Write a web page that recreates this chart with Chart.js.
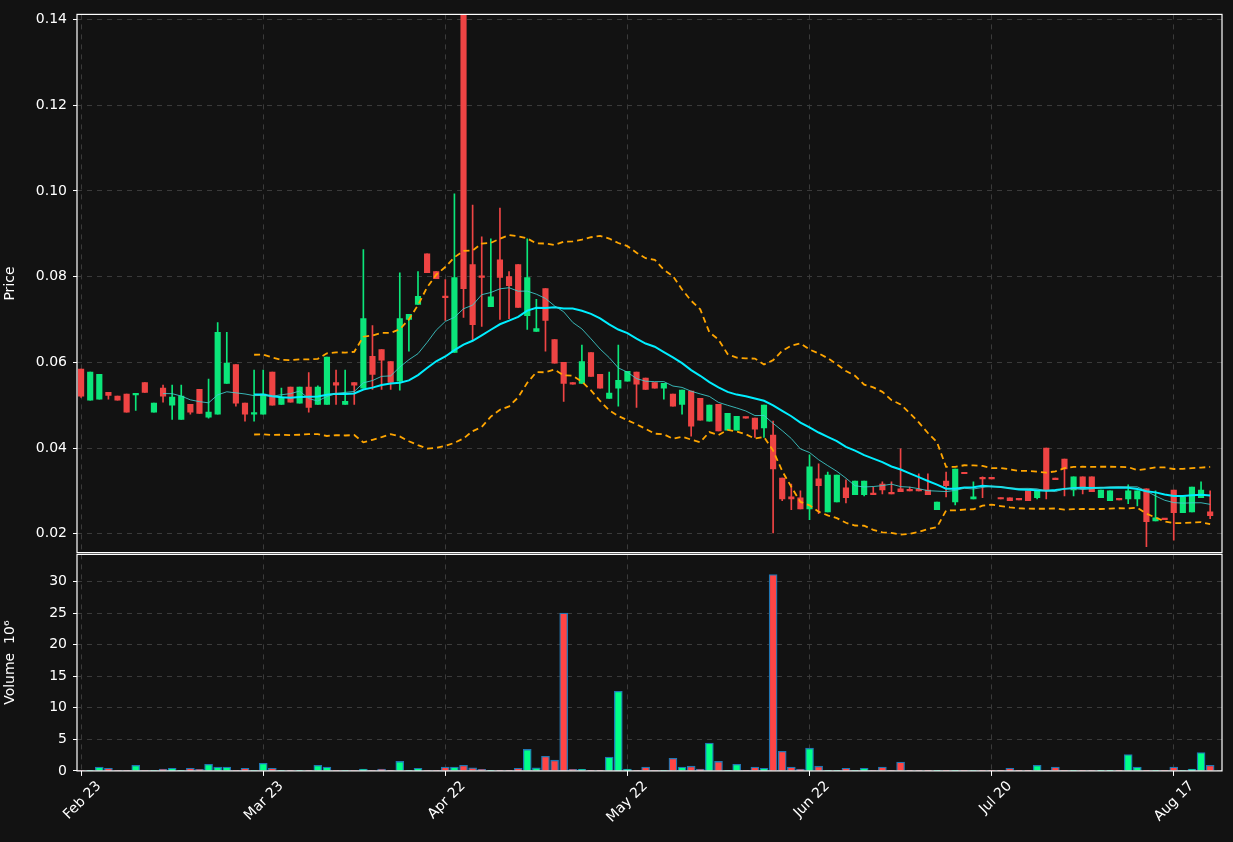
<!DOCTYPE html>
<html><head><meta charset="utf-8">
<script src="https://cdn.jsdelivr.net/npm/chart.js@4/dist/chart.umd.min.js"></script>
<style>
html,body{margin:0;padding:0;background:#121212;}
#wrap{position:relative;width:1233px;height:842px;overflow:hidden;}
#c1{position:absolute;left:0;top:0;}
#c2{position:absolute;left:0;top:540px;}
</style></head><body>
<div id="wrap">
<canvas id="c1" width="1233" height="567"></canvas>
<canvas id="c2" width="1233" height="288"></canvas>
</div>
<script>
const tickLabels = ["Feb 23","Mar 23","Apr 22","May 22","Jun 22","Jul 20","Aug 17"];
const tickIndex = [0,20,40,60,80,100,120];
const opens = [.0584,.0512,.0514,.0530,.0521,.0526,.0524,.0553,.0484,.0540,.0500,.0467,.0502,.0537,.0472,.0479,.0551,.0595,.0505,.0479,
.0479,.0577,.0502,.0542,.0505,.0542,.0502,.0502,.0553,.0502,.0553,.0540,.0614,.0630,.0602,.0556,.0700,.0735,.0853,.0812,
.0754,.0623,.1410,.0828,.0802,.0730,.0839,.0800,.0828,.0709,.0672,.0772,.0653,.0600,.0553,.0551,.0623,.0572,.0516,.0540,
.0556,.0577,.0563,.0553,.0540,.0526,.0502,.0533,.0516,.0463,.0502,.0442,.0442,.0472,.0470,.0447,.0430,.0330,.0286,.0284,
.0258,.0328,.0251,.0274,.0307,.0291,.0291,.0295,.0316,.0295,.0305,.0302,.0302,.0302,.0256,.0323,.0274,.0342,.0281,.0330,
.0330,.0284,.0284,.0280,.0300,.0284,.0400,.0330,.0374,.0302,.0333,.0333,.0284,.0277,.0281,.0281,.0281,.0305,.0230,.0235,
.0302,.0249,.0251,.0284,.0251];
const highs = [.0584,.0577,.0572,.0530,.0521,.0526,.0526,.0553,.0505,.0547,.0547,.0547,.0502,.0537,.0561,.0693,.0670,.0595,.0505,.0582,
.0582,.0577,.0540,.0542,.0542,.0576,.0545,.0612,.0582,.0582,.0553,.0863,.0686,.0630,.0602,.0809,.0712,.0812,.0853,.0812,
.0793,.0993,.1450,.0967,.0893,.0888,.0960,.0812,.0828,.0888,.0747,.0772,.0653,.0600,.0553,.0640,.0623,.0572,.0577,.0640,
.0579,.0577,.0563,.0553,.0551,.0526,.0535,.0533,.0516,.0500,.0502,.0481,.0474,.0472,.0470,.0500,.0463,.0330,.0316,.0300,
.0384,.0363,.0344,.0337,.0326,.0323,.0323,.0309,.0321,.0321,.0398,.0309,.0340,.0340,.0274,.0344,.0351,.0342,.0321,.0333,
.0330,.0284,.0284,.0280,.0300,.0300,.0400,.0330,.0374,.0333,.0333,.0333,.0302,.0300,.0281,.0314,.0300,.0305,.0300,.0235,
.0302,.0286,.0309,.0321,.0300];
const lows = [.0518,.0512,.0514,.0514,.0512,.0484,.0488,.0530,.0484,.0507,.0467,.0467,.0479,.0481,.0470,.0479,.0551,.0498,.0463,.0463,
.0479,.0500,.0502,.0507,.0505,.0484,.0502,.0502,.0502,.0502,.0502,.0540,.0537,.0537,.0537,.0535,.0626,.0735,.0809,.0795,
.0698,.0623,.0705,.0653,.0684,.0730,.0700,.0702,.0728,.0677,.0672,.0626,.0598,.0509,.0549,.0551,.0567,.0540,.0516,.0498,
.0556,.0495,.0537,.0540,.0514,.0498,.0479,.0428,.0465,.0463,.0440,.0442,.0442,.0470,.0425,.0425,.0202,.0277,.0256,.0258,
.0233,.0247,.0251,.0274,.0272,.0291,.0288,.0291,.0293,.0293,.0298,.0300,.0300,.0291,.0256,.0286,.0267,.0340,.0281,.0284,
.0328,.0281,.0277,.0279,.0277,.0281,.0281,.0326,.0288,.0288,.0293,.0298,.0284,.0277,.0279,.0270,.0265,.0170,.0230,.0233,
.0185,.0249,.0251,.0284,.0235];
const closes = [.0521,.0577,.0572,.0523,.0512,.0484,.0526,.0530,.0505,.0521,.0519,.0521,.0484,.0481,.0484,.0670,.0598,.0505,.0479,.0482,
.0526,.0500,.0519,.0507,.0542,.0495,.0542,.0612,.0547,.0509,.0547,.0702,.0572,.0605,.0553,.0702,.0712,.0754,.0809,.0795,
.0751,.0798,.0772,.0688,.0798,.0753,.0798,.0779,.0728,.0798,.0679,.0698,.0598,.0551,.0549,.0602,.0567,.0540,.0528,.0558,
.0579,.0549,.0537,.0540,.0551,.0498,.0535,.0451,.0465,.0500,.0440,.0481,.0474,.0470,.0444,.0500,.0351,.0281,.0281,.0258,
.0356,.0312,.0337,.0337,.0284,.0323,.0323,.0291,.0302,.0293,.0298,.0300,.0300,.0291,.0274,.0312,.0351,.0340,.0286,.0328,
.0328,.0281,.0277,.0279,.0277,.0300,.0302,.0326,.0351,.0333,.0305,.0298,.0302,.0300,.0279,.0300,.0300,.0228,.0237,.0233,
.0249,.0286,.0309,.0302,.0242];
const volumes = [.1,.05,.6,.4,.05,.1,.9,.05,.05,.3,.4,.05,.4,.25,1.05,.6,.6,.1,.4,.1,
1.2,.4,.05,.05,.1,.1,.9,.6,.05,.1,.1,.3,.1,.3,.1,1.5,.1,.4,.1,.05,
.6,.6,.9,.5,.25,.05,.05,.05,.4,3.4,.5,2.3,1.7,25.0,.25,.25,.1,.1,2.2,12.6,
.3,.05,.6,.1,.05,2.0,.6,.75,.3,4.4,1.5,.05,1.05,.05,.6,.4,31.1,3.1,.6,.3,
3.6,.75,.05,.1,.4,.05,.4,.1,.6,.05,1.4,.05,.05,.02,.02,.02,.02,.02,.1,.02,
.02,.02,.4,.02,.02,.9,.1,.6,.02,.02,.02,.1,.02,.02,.02,2.6,.6,.02,.02,.02,
.6,.05,.3,2.9,.9];

const UP='#0be67a', DN='#ef4444';
const idx = closes.map((_,i)=>i);
const up = closes.map((c,i)=>c>=opens[i]);
function sma(p){return closes.map((_,i)=>{if(i<p-1)return null;let s=0;for(let k=i-p+1;k<=i;k++)s+=closes[k];return s/p;});}
function sd(p,m){return closes.map((_,i)=>{if(i<p-1)return null;let s=0;for(let k=i-p+1;k<=i;k++)s+=(closes[k]-m[i])**2;return Math.sqrt(s/p);});}
const ma10=sma(10), ma20=sma(20), sd20=sd(20,ma20);
const bbU=ma20.map((m,i)=>m==null?null:m+2*sd20[i]);
const bbL=ma20.map((m,i)=>m==null?null:m-2*sd20[i]);

const FONT={family:'DejaVu Sans',size:14};
const frame={id:'frame',afterDraw(c){const a=c.chartArea,x=c.ctx;x.save();x.strokeStyle='#ffffff';x.lineWidth=1.2;x.strokeRect(a.left,a.top,a.right-a.left,a.bottom-a.top);x.restore();}};
const xScale=(show)=>({type:'linear',min:-0.45,max:125.3,offset:false,bounds:'ticks',
  afterBuildTicks(s){s.ticks=tickIndex.map(v=>({value:v}));},
  ticks:{display:show,color:'#fff',font:FONT,maxRotation:45,minRotation:45,autoSkip:false,padding:2,labelOffset:18,
    callback:(v)=>{const k=tickIndex.indexOf(v);return k>=0?tickLabels[k]:'';}},
  grid:{offset:false,color:'#3a3a3a',lineWidth:1,drawTicks:show,tickLength:5,tickColor:'#fff'},border:{dash:[5,5],display:false}});
const yFit=(s)=>{s.width=77;};
Chart.defaults.animation=false;
Chart.defaults.responsive=false;

const pts=(arr)=>arr.map((v,i)=>({x:i,y:v}));
new Chart(document.getElementById('c1'),{
  data:{datasets:[
    {type:'bar',data:idx.map(i=>({x:i,y:[lows[i],highs[i]]})),backgroundColor:idx.map(i=>up[i]?UP:DN),barThickness:1,grouped:false,order:3},
    {type:'bar',data:idx.map(i=>({x:i,y:[opens[i],closes[i]]})),backgroundColor:idx.map(i=>up[i]?UP:DN),barThickness:5.5,minBarLength:1.5,grouped:false,order:2},
    {type:'line',data:pts(ma10),borderColor:'rgba(64,208,208,0.85)',borderWidth:1,pointRadius:0,order:1},
    {type:'line',data:pts(ma20),borderColor:'#00eeff',borderWidth:2,pointRadius:0,order:1},
    {type:'line',data:pts(bbU),borderColor:'#ffa500',borderWidth:1.8,borderDash:[6,4],pointRadius:0,order:1},
    {type:'line',data:pts(bbL),borderColor:'#ffa500',borderWidth:1.8,borderDash:[6,4],pointRadius:0,order:1}
  ]},
  options:{layout:{padding:{top:12,right:11,bottom:0,left:0}},
    plugins:{legend:{display:false},tooltip:{enabled:false}},
    scales:{x:xScale(false),
      y:{min:0.0156,max:0.1412,afterFit:yFit,
        afterBuildTicks(s){s.ticks=[0.02,0.04,0.06,0.08,0.10,0.12,0.14].map(v=>({value:v}));},
        ticks:{color:'#fff',font:FONT,padding:6,callback:v=>v.toFixed(2)},
        grid:{color:'#3a3a3a',lineWidth:1,tickLength:4,tickColor:'#fff'},border:{dash:[5,5],display:false},
        title:{display:true,text:'Price',color:'#fff',font:FONT,padding:2}}}},
  plugins:[frame]});

new Chart(document.getElementById('c2'),{
  data:{datasets:[
    {type:'bar',data:idx.map(i=>({x:i,y:volumes[i]})),backgroundColor:idx.map(i=>up[i]?'#00ff88':'#ff4545'),borderColor:'#1f77b4',borderWidth:1.3,barThickness:8,grouped:false}
  ]},
  options:{layout:{padding:{top:12,right:11,bottom:0,left:0}},
    plugins:{legend:{display:false},tooltip:{enabled:false}},
    scales:{x:xScale(true),
      y:{min:0,max:34.3,afterFit:yFit,
        afterBuildTicks(s){s.ticks=[0,5,10,15,20,25,30].map(v=>({value:v}));},
        ticks:{color:'#fff',font:FONT,padding:6},
        grid:{color:'#3a3a3a',lineWidth:1,tickLength:4,tickColor:'#fff'},border:{dash:[5,5],display:false},
        title:{display:true,text:'Volume  10⁶',color:'#fff',font:FONT,padding:2}}}},
  plugins:[frame]});
</script>
</body></html>
